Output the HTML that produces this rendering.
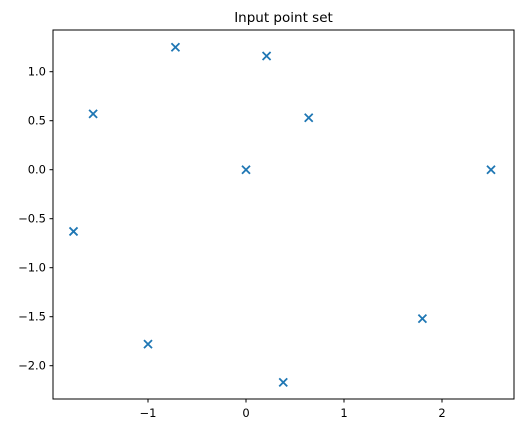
<!DOCTYPE html>
<html><head><meta charset="utf-8"><style>
body{margin:0;background:#fff;}
svg text{font-family:"DejaVu Sans","Liberation Sans",sans-serif;font-size:11.5px;fill:#000;}
</style></head><body>
<svg id="chart" width="522" height="433" xmlns="http://www.w3.org/2000/svg">
<text x="283.5" y="22" text-anchor="middle" style="font-size:13.5px">Input point set</text>
<g id="marks"></g><g id="axes"></g>
<rect x="53" y="30" width="461" height="369" fill="none" stroke="#000" stroke-width="1"/>
</svg>
<script>
const xs=[-1.76,-1.56,-0.72,0.21,0.64,0.0,2.5,1.8,0.38,-1.0];
const ys=[-0.63,0.57,1.25,1.16,0.53,0.0,0.0,-1.52,-2.17,-1.78];
const xTicks=[-1,0,1,2];
const yTicks=[1.0,0.5,0.0,-0.5,-1.0,-1.5,-2.0];
const NS="http://www.w3.org/2000/svg";
function sx(v){return 246+v*98;}
function sy(v){return 169.7-v*98;}
const m=document.getElementById('marks'),a=document.getElementById('axes');
function fmt(v,d){return (v<0?'\u2212':'')+Math.abs(v).toFixed(d);}
xs.forEach((x,i)=>{const px=sx(x),py=sy(ys[i]);const p=document.createElementNS(NS,'path');
p.setAttribute('d',`M${px-4},${py-4}L${px+4},${py+4}M${px-4},${py+4}L${px+4},${py-4}`);
p.setAttribute('stroke','#1f77b4');p.setAttribute('stroke-width','1.8');


m.appendChild(p);});
xTicks.forEach(t=>{const x=sx(t);const l=document.createElementNS(NS,'line');
l.setAttribute('x1',x);l.setAttribute('x2',x);l.setAttribute('y1',399);l.setAttribute('y2',402.5);l.setAttribute('stroke','#000');


a.appendChild(l);const tx=document.createElementNS(NS,'text');tx.setAttribute('x',x);tx.setAttribute('y',417);tx.setAttribute('text-anchor','middle');tx.textContent=fmt(t,0);


a.appendChild(tx);});
yTicks.forEach(t=>{const y=sy(t);const l=document.createElementNS(NS,'line');
l.setAttribute('x1',49.5);l.setAttribute('x2',53);l.setAttribute('y1',y);l.setAttribute('y2',y);l.setAttribute('stroke','#000');


a.appendChild(l);const tx=document.createElementNS(NS,'text');tx.setAttribute('x',46);tx.setAttribute('y',y+4);tx.setAttribute('text-anchor','end');tx.textContent=fmt(t,1);


a.appendChild(tx);});
</script>
</body></html>
